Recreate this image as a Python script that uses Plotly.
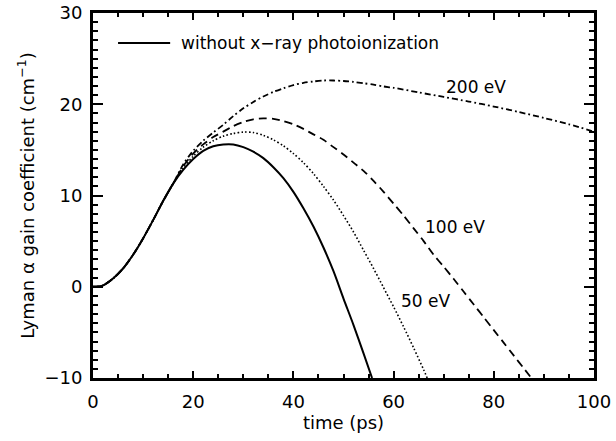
import plotly.graph_objects as go

# ---- data ----
t_none = [0, 1, 2, 4, 6, 8, 10, 12, 14, 16, 18, 20, 22, 24, 26, 28, 30, 32, 34, 36, 38, 40,
          42, 44, 46, 48, 50, 52, 54, 55.7]
g_none = [0, 0.02, 0.15, 0.9, 2.0, 3.5, 5.3, 7.3, 9.4, 11.3, 12.8, 14.0, 14.9, 15.4, 15.6, 15.6,
          15.3, 14.8, 14.1, 13.1, 11.9, 10.4, 8.6, 6.6, 4.3, 1.7, -1.3, -4.2, -7.3, -10]

t_50 = [0, 1, 2, 4, 6, 8, 10, 12, 14, 16, 18, 20, 22, 24, 26, 28, 30, 32, 34, 36, 38, 40,
        42, 44, 46, 48, 50, 52, 54, 56, 58, 60, 62, 64, 66, 66.7]
g_50 = [0, 0.02, 0.15, 0.9, 2.0, 3.5, 5.3, 7.3, 9.4, 11.3, 13.0, 14.3, 15.3, 16.0, 16.5, 16.8,
        16.95, 16.9, 16.6, 16.1, 15.45, 14.6, 13.6, 12.4, 11.0, 9.5, 7.8, 6.0, 4.0, 2.0, -0.1,
        -2.2, -4.4, -6.7, -9.1, -10]

t_100 = [0, 1, 2, 4, 6, 8, 10, 12, 14, 16, 18, 20, 22, 24, 26, 28, 30, 32, 34, 36, 38, 40,
         42, 44, 46, 48, 50, 52, 54, 56, 58, 60, 62, 64, 66, 68, 70, 72, 74, 76, 78, 80,
         82, 84, 86, 87.5]
g_100 = [0, 0.02, 0.15, 0.9, 2.0, 3.5, 5.3, 7.3, 9.4, 11.3, 13.2, 14.6, 15.6, 16.4, 17.0, 17.6,
         18.05, 18.35, 18.45, 18.4, 18.15, 17.8, 17.3, 16.7, 16.1, 15.3, 14.5, 13.6, 12.7, 11.6,
         10.4, 9.1, 7.8, 6.4, 5.0, 3.5, 2.2, 0.85, -0.55, -1.95, -3.35, -4.75, -6.15, -7.55,
         -8.95, -10]

t_200 = [0, 1, 2, 4, 6, 8, 10, 12, 14, 16, 18, 20, 22, 24, 26, 28, 30, 32, 34, 36, 38, 40,
         42, 44, 46, 48, 50, 52, 54, 56, 58, 60, 65, 70, 75, 80, 85, 90, 95, 100]
g_200 = [0, 0.02, 0.15, 0.9, 2.0, 3.5, 5.3, 7.3, 9.4, 11.3, 13.4, 14.9, 16.0, 16.9, 17.75, 18.7,
         19.55, 20.25, 20.85, 21.35, 21.75, 22.1, 22.35, 22.5, 22.6, 22.6, 22.55, 22.45, 22.3,
         22.15, 21.95, 21.8, 21.3, 20.8, 20.3, 19.75, 19.15, 18.5, 17.8, 17.0]

curve_labels = ["50 eV", "100 eV", "200 eV"]
label_x = [61.0, 65.9, 70.1]
label_y = [-1.6, 6.6, 21.9]

legend_text = "without x\u2212ray photoionization"

x_ticks = [0, 20, 40, 60, 80, 100]
y_ticks = [-10, 0, 10, 20, 30]

FONT = "DejaVu Sans, Liberation Sans, Arial, sans-serif"

fig = go.Figure()
fig.add_trace(go.Scatter(x=t_200, y=g_200, mode="lines", showlegend=False,
                         line=dict(color="black", width=1.8, dash="6px,3px,1.8px,3px",
                                   shape="spline", smoothing=0.8)))
fig.add_trace(go.Scatter(x=t_100, y=g_100, mode="lines", showlegend=False,
                         line=dict(color="black", width=1.8, dash="8px,5px",
                                   shape="spline", smoothing=0.8)))
fig.add_trace(go.Scatter(x=t_50, y=g_50, mode="lines", showlegend=False,
                         line=dict(color="black", width=1.6, dash="1.6px,2.2px",
                                   shape="spline", smoothing=0.8)))
fig.add_trace(go.Scatter(x=t_none, y=g_none, mode="lines", showlegend=False,
                         name=legend_text,
                         line=dict(color="black", width=2, shape="spline", smoothing=0.8)))

for txt, lx, ly in zip(curve_labels, label_x, label_y):
    fig.add_annotation(x=lx, y=ly, text=txt, showarrow=False, xanchor="left",
                       yanchor="middle", font=dict(size=17, color="black", family=FONT))

# legend key drawn as a line sample plus text
fig.add_shape(type="line", xref="paper", yref="paper", x0=0.05, x1=0.154, y0=0.918, y1=0.918,
              line=dict(color="black", width=2))
fig.add_annotation(xref="paper", yref="paper", x=0.172, y=0.918, text=legend_text,
                   showarrow=False, xanchor="left", yanchor="middle",
                   font=dict(size=17, color="black", family=FONT))

axis_common = dict(showline=True, linewidth=3, linecolor="black", mirror="allticks",
                   ticks="inside", tickcolor="black", tickwidth=2, showgrid=False,
                   zeroline=False, automargin=False,
                   tickfont=dict(size=18, color="black", family=FONT))

fig.update_xaxes(range=[0, 100], tickvals=x_ticks, ticklen=7,
                 minor=dict(dtick=5, ticklen=4, tickwidth=2, ticks="inside", tickcolor="black",
                            showgrid=False),
                 title=dict(text="time (ps)", font=dict(size=18, color="black", family=FONT),
                            standoff=6),
                 ticklabelstandoff=5, **axis_common)
fig.update_yaxes(range=[-10, 30], tickvals=y_ticks, ticklen=10,
                 minor=dict(dtick=1, ticklen=5, tickwidth=2, ticks="inside", tickcolor="black",
                            showgrid=False),
                 title=dict(text="Lyman \u03b1 gain coefficient (cm<sup>\u22121</sup>)",
                            font=dict(size=18, color="black", family=FONT), standoff=6),
                 ticklabelstandoff=4, **axis_common)

fig.update_layout(
    width=616, height=441,
    margin=dict(l=93, r=22, t=13, b=63),
    paper_bgcolor="white", plot_bgcolor="white",
    showlegend=False,
    font=dict(family=FONT, color="black"),
)

fig.write_html("out.html", config={"displayModeBar": False},
               post_script="document.body.style.margin='0';document.body.style.padding='0';"
                           "document.body.style.overflow='hidden';")
